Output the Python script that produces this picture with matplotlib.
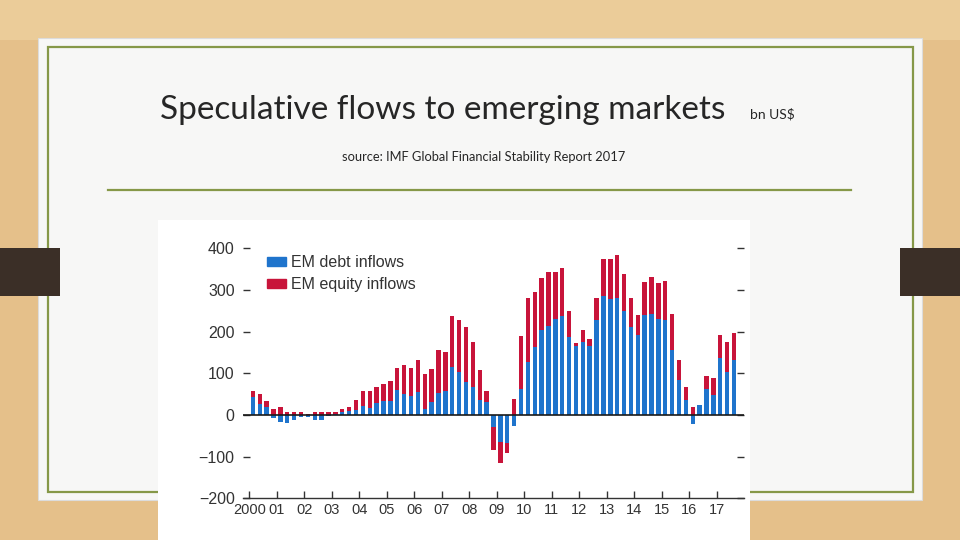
""" Speculative flows to emerging markets - slide recreation """

import matplotlib
matplotlib.use("Agg")
import matplotlib.pyplot as plt
from matplotlib.patches import Rectangle, Patch
import numpy as np

# quarterly data, 2000Q1 .. 2017Q3 (bn US$)
YEARS = list(range(2000, 2018))
YEAR_LABELS = ["2000"] + ["%02d" % (y % 100) for y in YEARS[1:]]
QUARTERS = ["%dQ%d" % (y, q) for y in YEARS for q in range(1, 5)][:71]

DEBT = [43, 27, 18, -8, -17, -18, -11, -5,
        -4, -12, -11, -3, 2, 7, 9, 13,
        22, 17, 29, 33, 34, 59, 51, 46,
        55, 15, 31, 53, 57, 114, 103, 80,
        67, 36, 32, -29, -64, -68, -26, 62,
        127, 164, 204, 213, 230, 238, 186, 166,
        176, 166, 228, 285, 278, 280, 250, 211,
        192, 241, 242, 230, 229, 157, 84, 37,
        -22, 25, 63, 48, 136, 104, 133]
EQUITY = [14, 23, 15, 14, 20, 8, 8, 6,
          2, 8, 6, 8, 4, 8, 11, 24,
          35, 40, 37, 41, 48, 54, 70, 67,
          77, 83, 79, 103, 93, 124, 125, 131,
          109, 71, 26, -56, -51, -24, 38, 128,
          153, 131, 125, 129, 112, 114, 63, 6,
          28, 16, 52, 90, 96, 104, 87, 70,
          48, 77, 89, 86, 93, 85, 48, 29,
          20, 0, 31, 40, 56, 72, 64]

Y_TICKS = [-200, -100, 0, 100, 200, 300, 400]

BLUE = "#1f74cc"
RED = "#c8143a"
GREEN = "#869848"
WOOD = "#e5c08a"
W, H = 960, 540


def fx(x):
    return x / W


def fy(y):
    return 1 - y / H


fig = plt.figure(figsize=(9.6, 5.4), dpi=100)
fig.patch.set_facecolor(WOOD)

# background / slide decorations in pixel coordinates
bg = fig.add_axes([0, 0, 1, 1], zorder=0)
bg.set_xlim(0, W)
bg.set_ylim(H, 0)
bg.axis("off")
bg.add_patch(Rectangle((0, 0), W, 40, color="#ebcc99", lw=0))
bg.add_patch(Rectangle((38, 38), 884, 462, facecolor="#f7f7f6", edgecolor="#dcdcdc", lw=0.8))
bg.add_patch(Rectangle((48, 47), 865, 445, facecolor="none", edgecolor=GREEN, lw=1.6))
bg.plot([108, 851], [190, 190], color=GREEN, lw=1.6)
bg.add_patch(Rectangle((0, 248), 60, 48, color="#3b2f27", lw=0))
bg.add_patch(Rectangle((900, 248), 60, 48, color="#3b2f27", lw=0))
bg.add_patch(Rectangle((158, 220), 592, 330, color="white", lw=0))

fig.text(fx(443), fy(119), "Speculative flows to emerging markets", ha="center",
         va="baseline", fontsize=24, family="Lato", color="#262626")
fig.text(fx(750), fy(119), "bn US$", ha="left", va="baseline", fontsize=10,
         family="Lato", color="#262626")
fig.text(fx(484), fy(157), "source: IMF Global Financial Stability Report 2017",
         ha="center", va="center", fontsize=9.3, family="Lato", color="#262626")

# chart axes: left 243px, right 744px, y=-200 at 498px, 41.7px per 100
y0_px, per100 = 415.0, 41.7
ytop = 420
ax = fig.add_axes([fx(243), fy(y0_px + 200 * per100 / 100), (744 - 243) / W,
                   (200 + ytop) * per100 / 100 / H], zorder=2)
ax.patch.set_alpha(0)

debt = np.array(DEBT, dtype=float)
equity = np.array(EQUITY, dtype=float)
x = 2000 + (np.arange(len(QUARTERS)) + 0.5) / 4
width = 0.16

debt_pos = np.clip(debt, 0, None)
debt_neg = np.clip(debt, None, 0)
eq_bottom = np.where(equity >= 0, debt_pos, debt_neg)

ax.bar(x, debt, width, color=BLUE, label="EM debt inflows", zorder=2)
ax.bar(x, equity, width, bottom=eq_bottom, color=RED, label="EM equity inflows", zorder=2)
ax.axhline(0, color="#1a1a1a", lw=1.2, zorder=3)

ax.set_xlim(1999.764, 2017.988)
ax.set_ylim(-200, ytop)

for s in ["left", "right", "top"]:
    ax.spines[s].set_visible(False)
ax.spines["bottom"].set_color("#333333")
ax.spines["bottom"].set_linewidth(1.0)

ax.set_xticks(YEARS)
ax.set_xticklabels(YEAR_LABELS)
ax.set_yticks(Y_TICKS)
ax.set_yticklabels([str(v).replace("-", "\u2212") for v in Y_TICKS])
ax.tick_params(axis="both", direction="in", length=5, width=1, color="#333333",
               labelcolor="#333333")
ax.tick_params(axis="x", pad=3, labelsize=10.5)
ax.tick_params(axis="y", pad=6, right=True, labelsize=11.5)
for lab in ax.get_xticklabels() + ax.get_yticklabels():
    lab.set_family("Liberation Sans")

handles = [Patch(color=BLUE, label="EM debt inflows"),
           Patch(color=RED, label="EM equity inflows")]
leg = ax.legend(handles=handles, loc="upper left", bbox_to_anchor=(0.048, 0.94),
                frameon=False, borderpad=0, borderaxespad=0, handlelength=1.2,
                handleheight=0.45, handletextpad=0.3, labelspacing=0.42,
                prop={"family": "Liberation Sans", "size": 11.5})
for t in leg.get_texts():
    t.set_color("#333333")

fig.savefig("out.png", dpi=100, facecolor=fig.get_facecolor())
